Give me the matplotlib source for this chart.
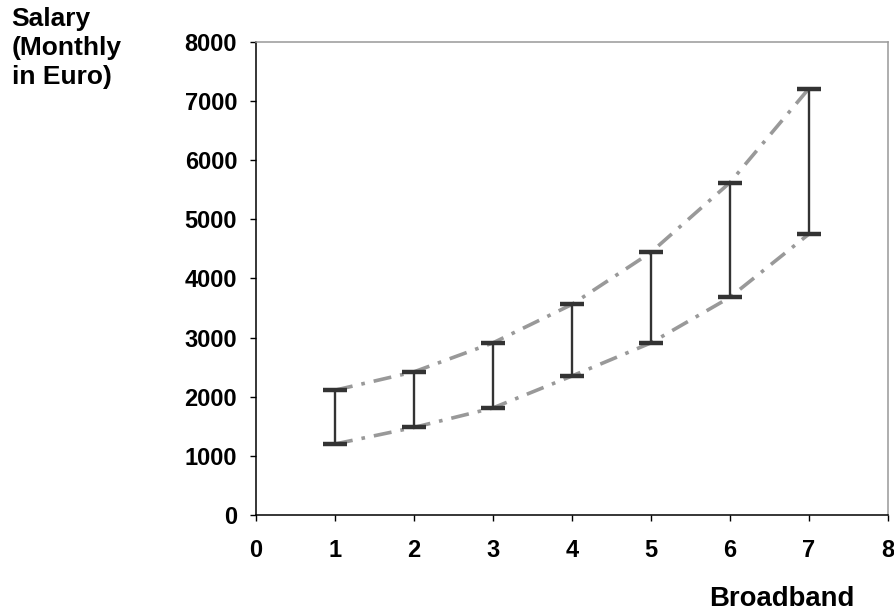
import numpy as np
import matplotlib.pyplot as plt

plt.rcParams['font.family'] = ['Liberation Sans', 'DejaVu Sans']

# broadband levels and monthly salary range (Euro)
bands = [1, 2, 3, 4, 5, 6, 7]
sal_min = [1200, 1480, 1810, 2350, 2910, 3680, 4750]
sal_max = [2110, 2420, 2910, 3560, 4440, 5620, 7210]

x_ticks = [0, 1, 2, 3, 4, 5, 6, 7, 8]
y_ticks = [0, 1000, 2000, 3000, 4000, 5000, 6000, 7000, 8000]

fig = plt.figure(figsize=(8.95, 6.16), dpi=100)
ax = fig.add_axes([0.286, 0.164, 0.706, 0.768])

dash = (0, (5, 2.5, 1, 2.5))
ax.plot(bands, sal_max, color='#999999', lw=2.6, linestyle=dash, zorder=2)
ax.plot(bands, sal_min, color='#999999', lw=2.6, linestyle=dash, zorder=2)

lo = np.array(sal_min)
hi = np.array(sal_max)
ax.errorbar(bands, lo, yerr=[np.zeros(len(lo)), hi - lo], fmt='none',
            ecolor='#333333', elinewidth=1.7, capsize=8.5, capthick=3.2, zorder=3)

ax.set_xlim(0, 8)
ax.set_ylim(0, 8000)
ax.set_xticks(x_ticks)
ax.set_yticks(y_ticks)
ax.set_xticklabels([str(t) for t in x_ticks], fontsize=17, fontweight='bold')
ax.set_yticklabels([str(t) for t in y_ticks], fontsize=17, fontweight='bold')
ax.tick_params(axis='x', direction='out', length=4.5, width=1, pad=13)
ax.tick_params(axis='y', direction='out', length=4.5, width=1, pad=9)

for s in ['left', 'bottom']:
    ax.spines[s].set_color('black')
    ax.spines[s].set_linewidth(1.1)
for s in ['top', 'right']:
    ax.spines[s].set_color('#999999')
    ax.spines[s].set_linewidth(1.1)

fig.text(0.013, 0.988, 'Salary\n(Monthly\nin Euro)', ha='left', va='top',
         fontsize=19, fontweight='bold', linespacing=1.25)
fig.text(0.955, 0.028, 'Broadband', ha='right', va='center',
         fontsize=19.8, fontweight='bold')

fig.savefig('out.png', dpi=100)
